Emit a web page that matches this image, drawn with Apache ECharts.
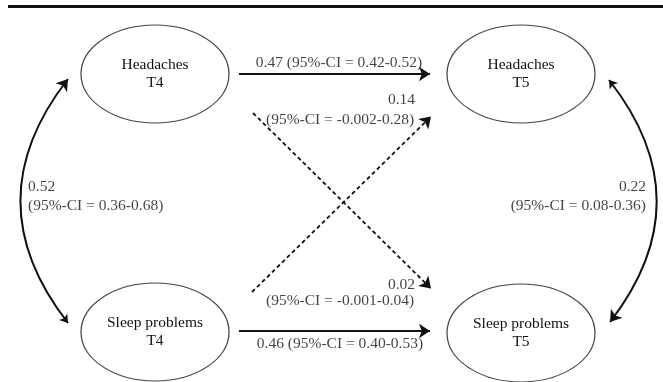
<!DOCTYPE html>
<html><head><meta charset="utf-8">
<script src="https://cdn.jsdelivr.net/npm/echarts@6/dist/echarts.min.js"></script>
<style>html,body{margin:0;padding:0;background:#fff}#c{width:663px;height:382px}</style>
</head><body><div id="c"></div>
<script>
// ---------------- DATA ----------------
const variables = ['Headaches', 'Sleep problems'];
const waves = ['T4', 'T5'];
// paths T4 -> T5 (variable index)
const pathFrom = [0, 0, 1, 1];
const pathTo = [0, 1, 0, 1];
const pathCoef = ['0.47', '0.02', '0.14', '0.46'];
const pathCiLow = ['0.42', '-0.001', '-0.002', '0.40'];
const pathCiHigh = ['0.52', '0.04', '0.28', '0.53'];
// within-wave covariances
const covWave = ['T4', 'T5'];
const covCoef = ['0.52', '0.22'];
const covCiLow = ['0.36', '0.08'];
const covCiHigh = ['0.68', '0.36'];

// ---------------- LAYOUT ----------------
const colX = [155, 521];
const rowY = [[74, 74], [332, 333]];
const pathGeom = [
  [[239, 74], [430, 74]],
  [[253, 113], [431, 288.5]],
  [[252, 292], [431, 116.5]],
  [[239, 331], [430, 331]]
];
const covGeom = [
  [[68, 323], [68, 79]],
  [[609, 80], [610, 322]]
];
const FONT = 'Liberation Serif';
const TXT = '#111';
const FS = 15.5;

const ci = (lo, hi) => '(95%-CI = ' + lo + '-' + hi + ')';

// nodes
const nodeData = [];
variables.forEach((v, r) => waves.forEach((w, c) => {
  nodeData.push({ value: [colX[c], rowY[r][c]], name: v + '\n' + w });
}));

// path lines
const lineData = pathFrom.map((f, i) => {
  const sig = parseFloat(pathCiLow[i]) > 0;
  return {
    coords: pathGeom[i],
    lineStyle: sig ? { type: 'solid', width: 2 } : { type: [4, 3], width: 1.8 }
  };
});
const covData = covWave.map((w, i) => ({ coords: covGeom[i], lineStyle: { curveness: 0.39 } }));

// text labels
const labelData = [];
function addLabel(x, y, text, align) {
  labelData.push({ value: [x, y], text: text, align: align });
}
addLabel(339, 63, pathCoef[0] + ' ' + ci(pathCiLow[0], pathCiHigh[0]), 'center');
addLabel(415, 285, pathCoef[1], 'right');
addLabel(266, 301, ci(pathCiLow[1], pathCiHigh[1]), 'left');
addLabel(415, 100, pathCoef[2], 'right');
addLabel(266, 120, ci(pathCiLow[2], pathCiHigh[2]), 'left');
addLabel(340, 344, pathCoef[3] + ' ' + ci(pathCiLow[3], pathCiHigh[3]), 'center');
addLabel(28, 187, covCoef[0], 'left');
addLabel(28, 206, ci(covCiLow[0], covCiHigh[0]), 'left');
addLabel(646, 187, covCoef[1], 'right');
addLabel(646, 206, ci(covCiLow[1], covCiHigh[1]), 'right');

const chart = echarts.init(document.getElementById('c'), null, { renderer: 'canvas' });
chart.setOption({
  animation: false,
  backgroundColor: '#fff',
  grid: { left: 0, right: 0, top: 0, bottom: 0 },
  xAxis: { type: 'value', min: 0, max: 663, show: false },
  yAxis: { type: 'value', min: 0, max: 382, inverse: true, show: false },
  graphic: [{ type: 'rect', shape: { x: 8, y: 5, width: 655, height: 3 }, style: { fill: '#111' } }],
  series: [
    {
      type: 'lines', coordinateSystem: 'cartesian2d', z: 2,
      symbol: ['none', 'arrow'], symbolSize: [8, 11],
      lineStyle: { color: '#111', opacity: 1 },
      data: lineData
    },
    {
      type: 'lines', coordinateSystem: 'cartesian2d', z: 2,
      symbol: ['arrow', 'arrow'], symbolSize: [8, 11],
      lineStyle: { color: '#111', width: 2, opacity: 1 },
      data: covData
    },
    {
      type: 'scatter', z: 3,
      symbol: 'path://M0,1A1,1,0,1,1,2,1A1,1,0,1,1,0,1Z',
      symbolSize: [148, 98],
      itemStyle: { color: '#fff', borderColor: '#444', borderWidth: 1, opacity: 1 },
      label: {
        show: true, position: 'inside', formatter: p => p.name,
        fontFamily: FONT, fontSize: FS, lineHeight: 18, color: TXT
      },
      emphasis: { disabled: true },
      data: nodeData
    },
    {
      type: 'scatter', z: 4, symbolSize: 0,
      label: {
        show: true, position: 'inside', fontFamily: FONT, fontSize: FS, color: TXT,
        formatter: p => labelData[p.dataIndex].text
      },
      emphasis: { disabled: true },
      data: labelData.map(d => ({ value: d.value, label: { align: d.align } }))
    }
  ]
});
</script></body></html>
